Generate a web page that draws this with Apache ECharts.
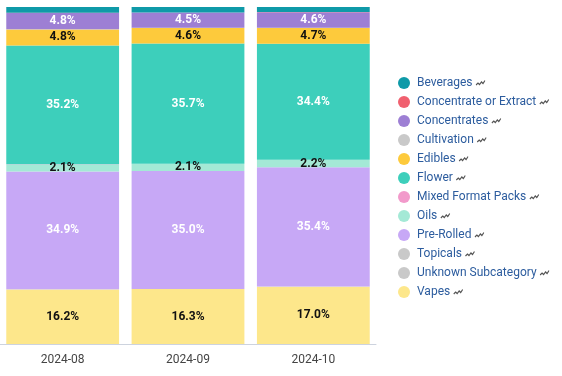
<!DOCTYPE html>
<html><head><meta charset="utf-8">
<script src="https://cdn.jsdelivr.net/npm/echarts@6/dist/echarts.min.js"></script>
<style>html,body{margin:0;padding:0;background:#fff}#c{width:562px;height:376px}</style>
</head><body><div id="c"></div>
<script>
const categories = ['2024-08', '2024-09', '2024-10'];
const seriesNames = ['Beverages','Concentrate or Extract','Concentrates','Cultivation','Edibles','Flower','Mixed Format Packs','Oils','Pre-Rolled','Topicals','Unknown Subcategory','Vapes'];
const beverages = [1.7, 1.6, 1.5];
const concentrateOrExtract = [0.1, 0.05, 0.05];
const concentrates = [4.8, 4.5, 4.6];
const cultivation = [0.05, 0.05, 0.05];
const edibles = [4.8, 4.6, 4.7];
const flower = [35.2, 35.7, 34.4];
const mixedFormatPacks = [0.1, 0.05, 0.05];
const oils = [2.1, 2.1, 2.2];
const preRolled = [34.9, 35.0, 35.4];
const topicals = [0.05, 0.05, 0.05];
const unknownSubcategory = [0.0, 0.0, 0.0];
const vapes = [16.2, 16.3, 17.0];

const values = [beverages, concentrateOrExtract, concentrates, cultivation, edibles, flower, mixedFormatPacks, oils, preRolled, topicals, unknownSubcategory, vapes];
const colors = ['#0f9aa8','#f0606f','#9d7fd4','#c9c9c9','#fdca3c','#3dcfbb','#f29acb','#a4e9d6','#c7a8f6','#c9c9c9','#c9c9c9','#fde78b'];
const labelColors = {'Concentrates':'#fff','Flower':'#fff','Pre-Rolled':'#fff'};

const svg = '<svg xmlns="http://www.w3.org/2000/svg" width="10" height="7"><polyline points="0.5,5.5 2.5,3.5 4,5 6,2.5 7.5,4 9.5,1" fill="none" stroke="#555" stroke-width="1.2"/></svg>';
const iconUrl = 'data:image/svg+xml;charset=utf-8,' + encodeURIComponent(svg);

const series = [];
for (let i = seriesNames.length - 1; i >= 0; i--) {
  const name = seriesNames[i];
  series.push({
    name: name,
    type: 'bar',
    stack: 'total',
    barCategoryGap: '10%',
    data: values[i],
    itemStyle: { color: colors[i] },
    label: {
      show: true,
      position: 'inside',
      fontFamily: 'Roboto',
      fontWeight: 'bold',
      fontSize: 12,
      color: labelColors[name] || '#111',
      formatter: p => p.value >= 2 ? p.value.toFixed(1) + '%' : ''
    }
  });
}

const chart = echarts.init(document.getElementById('c'), null, {renderer: 'canvas'});
chart.setOption({
  animation: false,
  grid: { left: -3, top: 7, width: 379, bottom: 32, containLabel: false },
  xAxis: {
    type: 'category',
    data: categories,
    axisLine: { lineStyle: { color: '#cdd3de' } },
    axisTick: { show: false },
    axisLabel: { color: '#444', fontSize: 12, fontFamily: 'Roboto', margin: 10 }
  },
  yAxis: { type: 'value', min: 0, max: 100, show: false, splitLine: { show: false } },
  legend: {
    orient: 'vertical',
    left: 393,
    top: 72,
    itemWidth: 12,
    itemHeight: 12,
    itemGap: 7,
    icon: 'circle',
    data: seriesNames,
    formatter: n => n + ' {ic|}',
    textStyle: {
      color: '#2c5c9e',
      fontSize: 12,
      fontFamily: 'Roboto',
      padding: [0, 0, 0, 2],
      rich: { ic: { width: 10, height: 7, backgroundColor: { image: iconUrl } } }
    }
  },
  series: series
});
</script></body></html>
